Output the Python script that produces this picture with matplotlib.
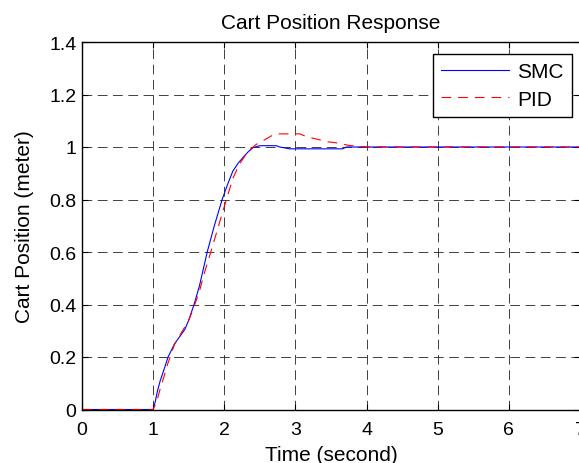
import numpy as np
import matplotlib
matplotlib.use("Agg")
import matplotlib.pyplot as plt

plt.rcParams["font.family"] = ["Liberation Sans", "DejaVu Sans"]
plt.rcParams["lines.scale_dashes"] = False

# values
smc_t = [0, 1.0, 1.03, 1.06, 1.1, 1.15, 1.21, 1.3, 1.38, 1.445, 1.5, 1.575, 1.65,
         1.76, 1.86, 1.97, 2.05, 2.12, 2.2, 2.26, 2.33, 2.4, 2.5, 2.73, 2.78,
         2.92, 3.66, 3.72, 7.0]
smc_y = [0, 0, 0.03, 0.07, 0.11, 0.15, 0.20, 0.25, 0.28, 0.305, 0.34, 0.40, 0.47,
         0.60, 0.70, 0.80, 0.86, 0.908, 0.94, 0.959, 0.98, 0.997, 1.005, 1.005, 1.0,
         0.993, 0.993, 1.0, 1.0]

pid_t = [0, 1.0, 1.05, 1.1, 1.14, 1.2, 1.3, 1.44, 1.5, 1.56, 1.65, 1.72, 1.81,
         1.92, 2.03, 2.12, 2.21, 2.3, 2.36, 2.45, 2.59, 2.68, 2.73, 3.06, 3.15,
         3.3, 3.45, 3.6, 3.75, 3.9, 4.0, 7.0]
pid_y = [0, 0, 0.03, 0.08, 0.114, 0.17, 0.248, 0.312, 0.34, 0.38, 0.45, 0.52, 0.60,
         0.70, 0.80, 0.88, 0.933, 0.97, 0.99, 1.01, 1.031, 1.045, 1.05, 1.05, 1.04,
         1.03, 1.02, 1.015, 1.006, 1.002, 1.0, 1.0]

x_ticks = [0, 1, 2, 3, 4, 5, 6, 7]
y_ticks = [0, 0.2, 0.4, 0.6, 0.8, 1.0, 1.2, 1.4]
y_labels = ["0", "0.2", "0.4", "0.6", "0.8", "1", "1.2", "1.4"]

fig = plt.figure(figsize=(5.79, 4.64), dpi=100)
ax = fig.add_axes([82 / 579, 1 - 410.5 / 464, 498 / 579, 367.5 / 464])

ax.plot(smc_t, smc_y, color="#0000ff", lw=0.8, label="SMC")
ax.plot(pid_t, pid_y, color="#ff0000", lw=0.8, linestyle=(0, (7, 5)), label="PID")

ax.set_xlim(0, 7)
ax.set_ylim(0, 1.4)
ax.set_xticks(x_ticks)
ax.set_yticks(y_ticks)
ax.set_yticklabels(y_labels)
ax.tick_params(direction="in", length=4, width=0.8, labelsize=14,
               top=True, right=True)
ax.tick_params(axis="x", pad=8.5)
ax.tick_params(axis="y", pad=4)
ax.grid(True, color="#202020", lw=0.6, linestyle=(0, (7, 4)))
for s in ax.spines.values():
    s.set_linewidth(1.0)

ax.set_title("Cart Position Response", fontsize=15, pad=10)
ax.set_xlabel("Time (second)", fontsize=15, labelpad=5)
ax.set_ylabel("Cart Position (meter)", fontsize=15, labelpad=11)

leg = ax.legend(loc="upper right", bbox_to_anchor=(572 / 579, 1 - 55 / 464),
                bbox_transform=fig.transFigure, borderaxespad=0, fontsize=15,
                handlelength=3.25, handletextpad=0.4, labelspacing=0.4,
                fancybox=False, framealpha=1, edgecolor="black")
leg.get_frame().set_linewidth(1.0)

fig.savefig("out.png", dpi=100)
